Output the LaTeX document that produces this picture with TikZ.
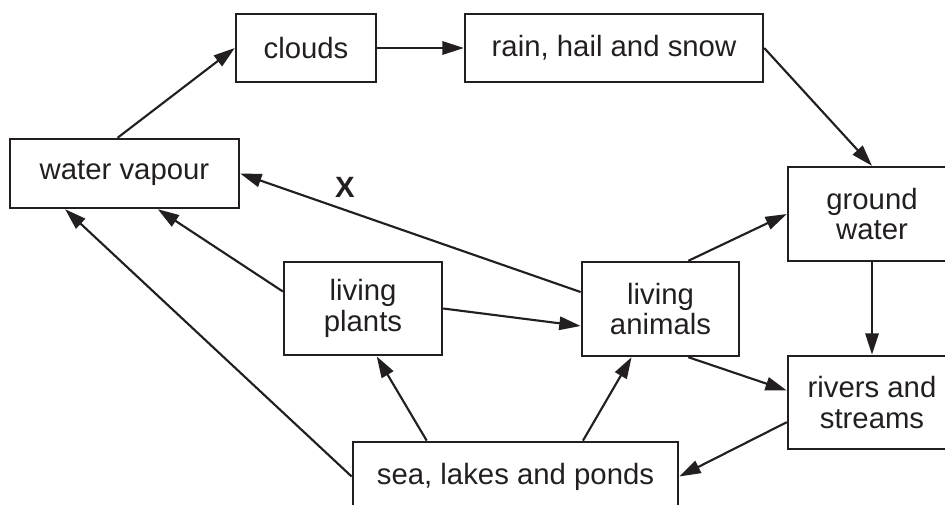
\documentclass[tikz,border=0pt]{standalone}
\usepackage{fontspec}
\setmainfont{Liberation Sans}
\usepackage{xcolor}
\usepackage{tikz}
\usetikzlibrary{arrows.meta}
\definecolor{ink}{RGB}{35,31,32}
\tikzset{
  stage/.style={draw=ink, line width=1.8pt, text=ink, align=center, inner sep=0pt,
    font=\fontsize{22}{23}\selectfont},
  flow/.style={draw=ink, line width=1.6pt, -{Triangle[length=16pt,width=10pt]}}
}
\begin{document}
\begin{tikzpicture}[x=0.75pt,y=0.75pt,yscale=-1,xscale=1]

\useasboundingbox (0,0) rectangle (945,504);
\clip (0,0) rectangle (945,504);

\node [stage, minimum width=105pt, minimum height=51pt] (clouds) at (306,48) {clouds};

\node [stage, minimum width=223.5pt, minimum height=51pt] (rain) at (614,48) {rain, hail and snow};

\node [stage, minimum width=171.75pt, minimum height=51.75pt] (vapour) at (124.5,173.5) {water vapour};

\node [stage, minimum width=126pt, minimum height=70.5pt] (ground) at (872,214) {ground\\water};

\node [stage, minimum width=126pt, minimum height=70pt] (rivers) at (872,402.5) {rivers and\\streams};

\node [stage, minimum width=118.5pt, minimum height=70pt] (plants) at (363,308.5) {living\\plants};

\node [stage, minimum width=118pt, minimum height=70.5pt] (animals) at (660.5,309) {living\\animals};

\node [stage, minimum width=244pt, minimum height=52pt] (sea) at (515.5,476.5) {sea, lakes and ponds};

\node [text=ink, font=\fontsize{22}{23}\selectfont\bfseries] (xlabel) at (345,187) {X};


\draw [flow] (vapour.101) -- (clouds.west);

\draw [flow] (clouds.east) -- (rain.west);

\draw [flow] (rain.east) -- (ground.north);

\draw [flow] (animals.168) -- (vapour.east);

\draw [flow] (plants.168) -- (vapour.-47.5);

\draw [flow] (sea.west) -- (vapour.211);

\draw [flow] (plants.east) -- (animals.192);

\draw [flow] (animals.60) -- (ground.west);

\draw [flow] (ground.south) -- (rivers.north);

\draw [flow] (animals.-60) -- (rivers.172);

\draw [flow] (rivers.193) -- (sea.east);

\draw [flow] (sea.158) -- (plants.286);

\draw [flow] (sea.28) -- (animals.239);

\end{tikzpicture}
\end{document}
